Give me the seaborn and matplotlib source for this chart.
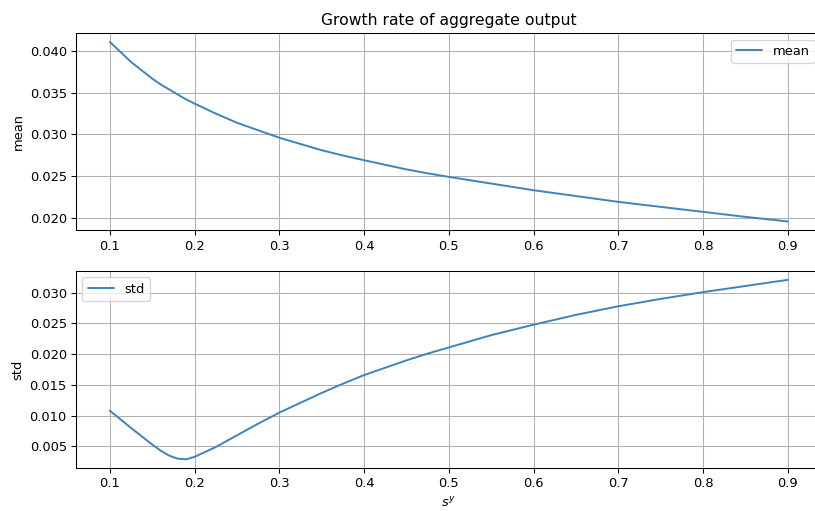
#!/usr/bin/env python3
# -*- coding: utf-8 -*-
"""
Growth rate of aggregate output: mean and std against s^y
"""
import matplotlib
matplotlib.use('Agg')
import matplotlib.pyplot as plt
import seaborn as sns
import pandas as pd

# values
s_y = [0.100, 0.125, 0.150, 0.160, 0.170, 0.180, 0.190, 0.200, 0.225, 0.250, 0.275,
       0.300, 0.325, 0.350, 0.375, 0.400, 0.425, 0.450, 0.475, 0.500, 0.550, 0.600,
       0.650, 0.700, 0.750, 0.800, 0.850, 0.900]
mean_vals = [0.0411, 0.0387, 0.0367, 0.0360, 0.0354, 0.0348, 0.0342, 0.0337, 0.0325,
             0.0314, 0.0305, 0.0296, 0.02885, 0.0281, 0.02747, 0.0269, 0.02635, 0.0258,
             0.02533, 0.0249, 0.0241, 0.0233, 0.0226, 0.0219, 0.0213, 0.0207, 0.0201,
             0.01955]
std_vals = [0.0108, 0.0080, 0.0053, 0.0043, 0.0035, 0.0030, 0.0029, 0.0033, 0.0049,
            0.0068, 0.0087, 0.0105, 0.0121, 0.0137, 0.0152, 0.0166, 0.0178, 0.0190,
            0.0201, 0.0211, 0.0231, 0.0248, 0.0264, 0.0278, 0.0290, 0.0301, 0.0311,
            0.0321]

df = pd.DataFrame({'sy': s_y, 'mean': mean_vals, 'std': std_vals})

sns.set_style('ticks', {'axes.grid': True, 'grid.color': '#b0b0b0',
                        'axes.edgecolor': 'black', 'xtick.color': 'black',
                        'ytick.color': 'black', 'text.color': 'black',
                        'axes.labelcolor': 'black'})
plt.rcParams['font.family'] = ['DejaVu Sans']

line_color = '#3f85ba'
DPI = 94

fig, (ax1, ax2) = plt.subplots(2, 1, figsize=(816 / DPI, 511 / DPI), dpi=DPI)
fig.subplots_adjust(left=0.0931, right=1.0069, top=0.9354, bottom=0.0836, hspace=0.205)

# top: mean
sns.lineplot(data=df, x='sy', y='mean', ax=ax1, color=line_color, lw=1.5, label='mean')
ax1.set_title('Growth rate of aggregate output', fontsize=12)
ax1.set_xlabel('')
ax1.set_ylabel('mean')
ax1.legend(loc='upper right')

# bottom: std
sns.lineplot(data=df, x='sy', y='std', ax=ax2, color=line_color, lw=1.5, label='std')
ax2.set_xlabel('$s^y$')
ax2.set_ylabel('std')
ax2.legend(loc='upper left')

for ax in (ax1, ax2):
    ax.set_xticks([0.1, 0.2, 0.3, 0.4, 0.5, 0.6, 0.7, 0.8, 0.9])
    ax.grid(True, color='#b0b0b0', lw=0.8)
    ax.tick_params(length=3.5, width=0.8)
    for sp in ax.spines.values():
        sp.set_linewidth(0.8)

fig.savefig('out.png', dpi=DPI)
